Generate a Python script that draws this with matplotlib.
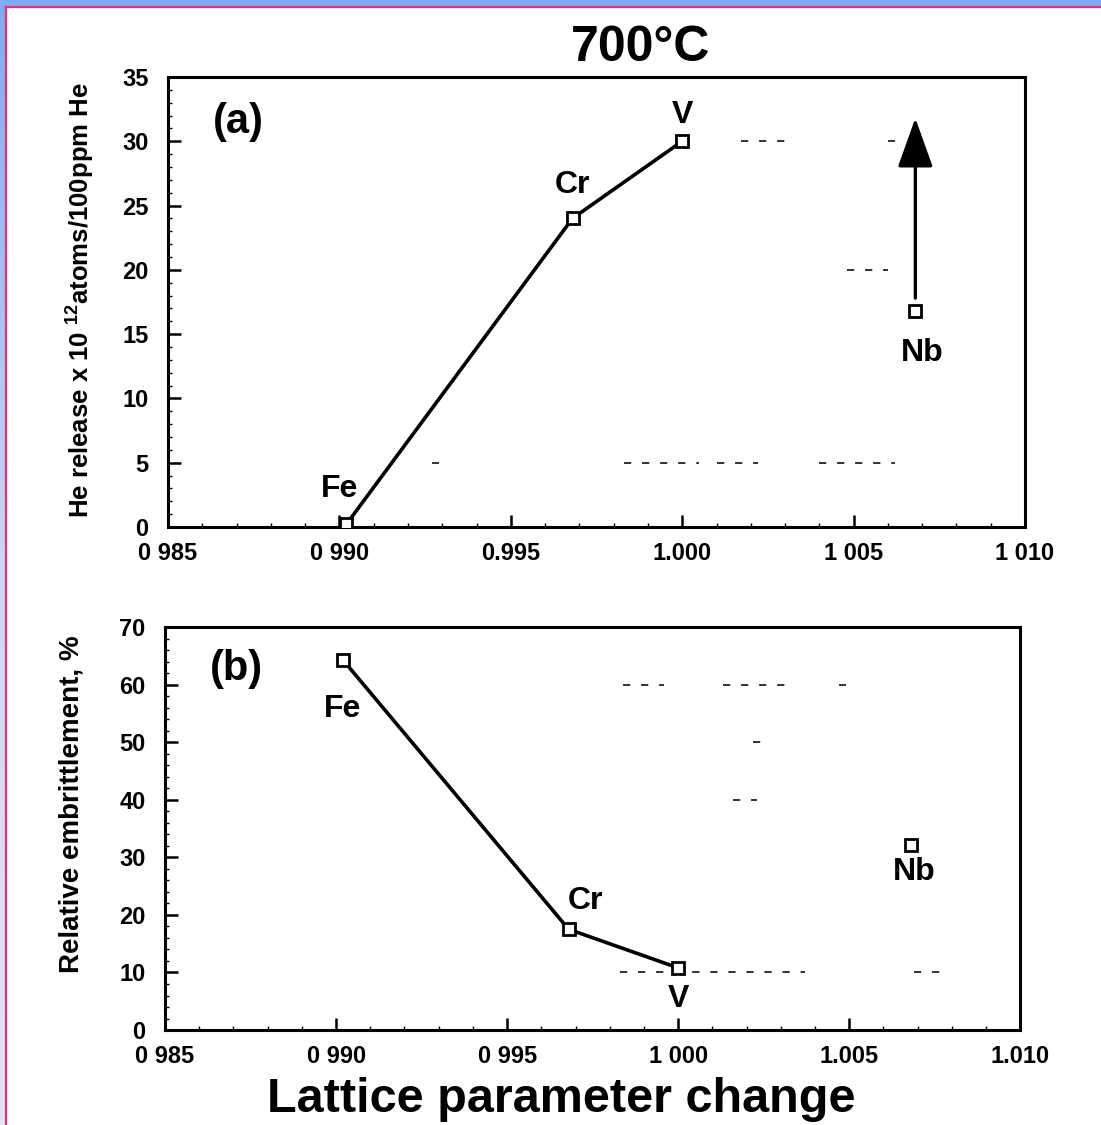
import numpy as np
import matplotlib.pyplot as plt
from matplotlib.ticker import MultipleLocator, FixedLocator
from matplotlib.colors import LinearSegmentedColormap

# lattice parameter change for each element
elements = ["Fe", "Cr", "V", "Nb"]
lattice = [0.9902, 0.9968, 1.0000, 1.0068]

# (a) helium release, 10^12 atoms / 100 ppm He
he_release = [0.2, 24.0, 30.0, 16.8]
nb_arrow_top = 31.8

# (b) relative embrittlement, %
embrittlement = [64.3, 17.5, 10.8, 32.1]

xticks = [0.985, 0.990, 0.995, 1.000, 1.005, 1.010]
xlabels_a = ["0 985", "0 990", "0.995", "1.000", "1 005", "1 010"]
xlabels_b = ["0 985", "0 990", "0 995", "1 000", "1.005", "1.010"]

# faint dashes left over from the printed grid: (y, x_start, x_end)
residue_a = [(30, 1.0017, 1.0032), (30, 1.0060, 1.0062), (20, 1.0048, 1.0060),
             (5, 0.9927, 0.9929), (5, 0.9983, 1.0005), (5, 1.0010, 1.0022),
             (5, 1.0040, 1.0062)]
residue_b = [(60, 0.9984, 0.9996), (60, 1.0013, 1.0032), (60, 1.0047, 1.0049),
             (50, 1.0022, 1.0025), (40, 1.0016, 1.0023), (10, 0.9983, 1.0037),
             (10, 1.0069, 1.0079)]

labels_a = {"Fe": (-0.0002, 1.6, "center", "bottom"),
            "Cr": (0.0000, 1.4, "center", "bottom"),
            "V": (0.0000, 0.9, "center", "bottom"),
            "Nb": (0.0002, -2.1, "center", "top")}
labels_b = {"Fe": (0.0000, -6.0, "center", "top"),
            "Cr": (0.0005, 2.3, "center", "bottom"),
            "V": (0.0000, -2.8, "center", "top"),
            "Nb": (0.0001, -2.0, "center", "top")}

plt.rcParams['font.family'] = ['Liberation Sans', 'DejaVu Sans']
plt.rcParams['font.weight'] = 'bold'
plt.rcParams['mathtext.fontset'] = 'custom'
plt.rcParams['mathtext.rm'] = 'Liberation Sans:bold'
plt.rcParams['mathtext.bf'] = 'Liberation Sans:bold'

fig = plt.figure(figsize=(11.01, 11.25), dpi=100)
fig.patch.set_facecolor('white')

# slide frame: blue band along top and left, pink rule inside it
top_band = fig.add_axes([0, 1 - 6 / 1125, 1, 6 / 1125])
top_band.set_facecolor('#7eacf4')
top_band.axis('off')
top_band.add_patch(plt.Rectangle((0, 0), 1, 1, transform=top_band.transAxes,
                                 color='#7eacf4'))
left_band = fig.add_axes([0, 0, 6 / 1101, 1 - 6 / 1125])
grad = np.linspace(0, 1, 256).reshape(-1, 1)
cmap = LinearSegmentedColormap.from_list('band', ['#dfe6f6', '#c9d8f6', '#7eacf4'])
left_band.imshow(grad, aspect='auto', cmap=cmap, origin='lower')
left_band.axis('off')
fig.add_artist(plt.Line2D([6.5 / 1101, 1], [1 - 7 / 1125] * 2, color='#e8306e', lw=1.6))
fig.add_artist(plt.Line2D([6.5 / 1101] * 2, [0, 1 - 7 / 1125], color='#e8306e', lw=1.6))

ax_a = fig.add_axes([0.1526, 0.5316, 0.7784, 0.4000])
ax_b = fig.add_axes([0.1499, 0.0844, 0.7767, 0.3582])


def style_axis(ax, ylim, ymajor, yminor, xlabels):
    ax.set_xlim(0.985, 1.010)
    ax.set_ylim(*ylim)
    ax.xaxis.set_major_locator(FixedLocator(xticks))
    ax.set_xticklabels(xlabels)
    ax.yaxis.set_major_locator(MultipleLocator(ymajor))
    ax.yaxis.set_minor_locator(MultipleLocator(yminor))
    ax.xaxis.set_minor_locator(MultipleLocator(0.001))
    ax.tick_params(which='major', direction='in', length=9, width=1.8,
                   labelsize=17, pad=11, top=False, right=False)
    ax.tick_params(which='minor', direction='in', length=3, width=1.0,
                   top=False, right=False)
    ax.tick_params(axis='y', pad=14)
    for s in ax.spines.values():
        s.set_linewidth(2.2)
    for lab in ax.get_xticklabels() + ax.get_yticklabels():
        lab.set_fontweight('bold')


def draw_points(ax, yvals, labels, fs):
    ax.plot(lattice[:3], yvals[:3], color='black', lw=2.6, zorder=2)
    ax.plot(lattice, yvals, linestyle='none', marker='s', markersize=9,
            markerfacecolor='white', markeredgecolor='black',
            markeredgewidth=2.0, zorder=3)
    for el, x, y in zip(elements, lattice, yvals):
        dx, dy, ha, va = labels[el]
        ax.text(x + dx, y + dy, el, fontsize=fs, fontweight='bold',
                ha=ha, va=va)


def draw_residue(ax, segs):
    for y, x0, x1 in segs:
        ax.plot([x0, x1], [y, y], color='#222222', lw=1.3,
                linestyle=(0, (4, 6)), zorder=1)


# (a) helium release
style_axis(ax_a, (0, 35), 5, 1, xlabels_a)
draw_residue(ax_a, residue_a)
draw_points(ax_a, he_release, labels_a, 23)
ax_a.annotate('', xy=(lattice[3], nb_arrow_top), xytext=(lattice[3], he_release[3] + 1.0),
              arrowprops=dict(arrowstyle='-|>,head_width=0.5,head_length=1.4',
                              lw=2.4, color='black', mutation_scale=22,
                              shrinkA=0, shrinkB=0))
ax_a.text(0.052, 0.90, '(a)', transform=ax_a.transAxes, fontsize=30,
          fontweight='bold', ha='left', va='center')
ax_a.set_ylabel(r'He release x 10 $^{12}$atoms/100ppm He', fontsize=18.5,
                fontweight='bold')
ax_a.yaxis.set_label_coords(-0.084, 0.505)
ax_a.text(0.551, 1.013, '700°C', transform=ax_a.transAxes, fontsize=36,
          fontweight='bold', ha='center', va='bottom')

# (b) relative embrittlement
style_axis(ax_b, (0, 70), 10, 2, xlabels_b)
draw_residue(ax_b, residue_b)
draw_points(ax_b, embrittlement, labels_b, 23)
ax_b.text(0.052, 0.895, '(b)', transform=ax_b.transAxes, fontsize=30,
          fontweight='bold', ha='left', va='center')
ax_b.set_ylabel('Relative embrittlement, %', fontsize=20, fontweight='bold')
ax_b.yaxis.set_label_coords(-0.094, 0.56)
ax_b.set_xlabel('Lattice parameter change', fontsize=35, fontweight='bold')
ax_b.xaxis.set_label_coords(0.463, -0.117)

fig.savefig('out.png', dpi=100)
